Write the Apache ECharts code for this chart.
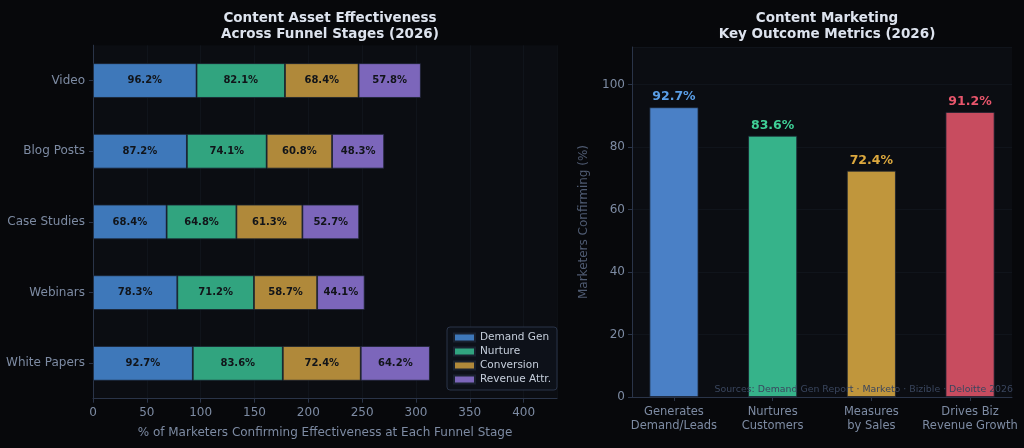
<!DOCTYPE html>
<html>
<head>
<meta charset="utf-8">
<script src="https://cdn.jsdelivr.net/npm/echarts@6/dist/echarts.min.js"></script>
<style>
  html, body { margin: 0; padding: 0; background: #07080b; }
  #chart { width: 1024px; height: 448px; }
</style>
</head>
<body>
<div id="chart"></div>
<script>
const ASSETS = ["White Papers", "Webinars", "Case Studies", "Blog Posts", "Video"];
const DEMAND_GEN = [92.7, 78.3, 68.4, 87.2, 96.2];
const NURTURE = [83.6, 71.2, 64.8, 74.1, 82.1];
const CONVERSION = [72.4, 58.7, 61.3, 60.8, 68.4];
const REVENUE_ATTR = [64.2, 44.1, 52.7, 48.3, 57.8];
const STAGE_NAMES = ["Demand Gen", "Nurture", "Conversion", "Revenue Attr."];
const STAGE_COLORS = ["#3e78ba", "#31a47f", "#b0893a", "#7c66bb"];

const OUTCOMES = ["Generates\nDemand/Leads", "Nurtures\nCustomers", "Measures\nby Sales", "Drives Biz\nRevenue Growth"];
const OUTCOME_VALUES = [92.7, 83.6, 72.4, 91.2];
const OUTCOME_COLORS = ["#4a80c6", "#36b38a", "#c0963c", "#c84c5f"];
const OUTCOME_LABEL_COLORS = ["#5a9ee6", "#3fcf96", "#dca83e", "#e9566c"];
const OUTCOME_POSITIONS = [0, 1, 2, 3];

const AXIS_TEXT = "#7d8ba3";
const AXIS_LINE = "#2a3448";
const GRID_LINE = "rgba(60, 72, 96, 0.12)";

const chart = echarts.init(document.getElementById("chart"), null, { renderer: "canvas" });

const stageSeries = [DEMAND_GEN, NURTURE, CONVERSION, REVENUE_ATTR].map((vals, i) => ({
  name: STAGE_NAMES[i],
  type: "bar",
  stack: "funnel",
  xAxisIndex: 0,
  yAxisIndex: 0,
  data: vals,
  barWidth: "49%",
  itemStyle: { color: STAGE_COLORS[i], borderColor: "#1a2230", borderWidth: 0.8 },
  label: {
    show: true,
    position: "inside",
    formatter: (p) => p.value.toFixed(1) + "%",
    color: "#111419",
    fontWeight: "bold",
    fontSize: 10,
  },
}));

chart.setOption({
  backgroundColor: "#07080b",
  textStyle: { fontFamily: "DejaVu Sans" },
  title: [
    {
      text: "Content Asset Effectiveness\nAcross Funnel Stages (2026)",
      left: 325, top: 5, textAlign: "center",
      textStyle: { color: "#dde3ee", fontSize: 13.5, fontWeight: "bold", lineHeight: 16 },
    },
    {
      text: "Content Marketing\nKey Outcome Metrics (2026)",
      left: 822, top: 5, textAlign: "center",
      textStyle: { color: "#dde3ee", fontSize: 13.5, fontWeight: "bold", lineHeight: 16 },
    },
    {
      text: "Sources: Demand Gen Report · Marketo · Bizible · Deloitte 2026",
      left: 1008, top: 380, textAlign: "right",
      textStyle: { color: "#3a465e", fontSize: 9.4, fontWeight: "normal" },
    },
  ],
  legend: {
    data: STAGE_NAMES,
    orient: "vertical",
    left: 447, top: 327,
    itemWidth: 21, itemHeight: 8, itemGap: 3,
    padding: [5, 6, 5, 6],
    backgroundColor: "#0d1119",
    borderColor: "#2a3448", borderWidth: 1, borderRadius: 3,
    textStyle: { color: "#c6cfdc", fontSize: 10.5 },
    icon: "rect",
  },
  grid: [
    { left: 93, top: 45.2, width: 464, height: 353.5, show: true, backgroundColor: "#0b0d12", borderWidth: 0 },
    { left: 632, top: 47, width: 380, height: 350, show: true, backgroundColor: "#0b0d12", borderWidth: 0 },
  ],
  xAxis: [
    {
      gridIndex: 0, type: "value", min: 0, max: 431, interval: 50,
      name: "% of Marketers Confirming Effectiveness at Each Funnel Stage",
      nameLocation: "middle", nameGap: 28,
      nameTextStyle: { color: AXIS_TEXT, fontSize: 12 },
      axisLine: { show: true, lineStyle: { color: AXIS_LINE } },
      axisTick: { show: true, length: 4, lineStyle: { color: AXIS_LINE } },
      axisLabel: { color: AXIS_TEXT, fontSize: 12, margin: 8, showMaxLabel: false },
      splitLine: { show: true, lineStyle: { color: GRID_LINE } },
    },
    {
      gridIndex: 1, type: "value", min: -0.425, max: 3.425,
      axisLine: { show: true, onZero: false, lineStyle: { color: AXIS_LINE } },
      axisTick: { show: true, length: 4, lineStyle: { color: AXIS_LINE }, customValues: OUTCOME_POSITIONS },
      axisLabel: {
        color: AXIS_TEXT, fontSize: 11.5, margin: 8, lineHeight: 14,
        customValues: OUTCOME_POSITIONS,
        formatter: (v) => OUTCOMES[Math.round(v)] || "",
      },
      splitLine: { show: false },
    },
  ],
  yAxis: [
    {
      gridIndex: 0, type: "category", data: ASSETS,
      axisLine: { show: true, lineStyle: { color: AXIS_LINE } },
      axisTick: { show: true, alignWithLabel: true, length: 4, lineStyle: { color: AXIS_LINE } },
      axisLabel: { color: AXIS_TEXT, fontSize: 12, margin: 8 },
      splitLine: { show: false },
    },
    {
      gridIndex: 1, type: "value", min: 0, max: 112, interval: 20,
      name: "Marketers Confirming (%)",
      nameLocation: "middle", nameGap: 42, nameRotate: 90,
      nameTextStyle: { color: "#4f5b72", fontSize: 12 },
      axisLine: { show: true, onZero: false, lineStyle: { color: AXIS_LINE } },
      axisTick: { show: true, length: 4, lineStyle: { color: AXIS_LINE } },
      axisLabel: { color: AXIS_TEXT, fontSize: 12, margin: 7, showMaxLabel: false },
      splitLine: { show: true, lineStyle: { color: GRID_LINE } },
    },
  ],
  series: [
    ...stageSeries,
    {
      name: "Outcomes",
      type: "bar",
      xAxisIndex: 1,
      yAxisIndex: 1,
      barWidth: 49,
      data: OUTCOME_VALUES.map((v, i) => ({
        value: [OUTCOME_POSITIONS[i], v],
        itemStyle: { color: OUTCOME_COLORS[i], borderColor: "#1a2230", borderWidth: 0.8 },
        label: { color: OUTCOME_LABEL_COLORS[i] },
      })),
      label: {
        show: true,
        position: "top",
        distance: 4,
        formatter: (p) => p.value[1].toFixed(1) + "%",
        fontWeight: "bold",
        fontSize: 12.5,
      },
    },
  ],
});
</script>
</body>
</html>
